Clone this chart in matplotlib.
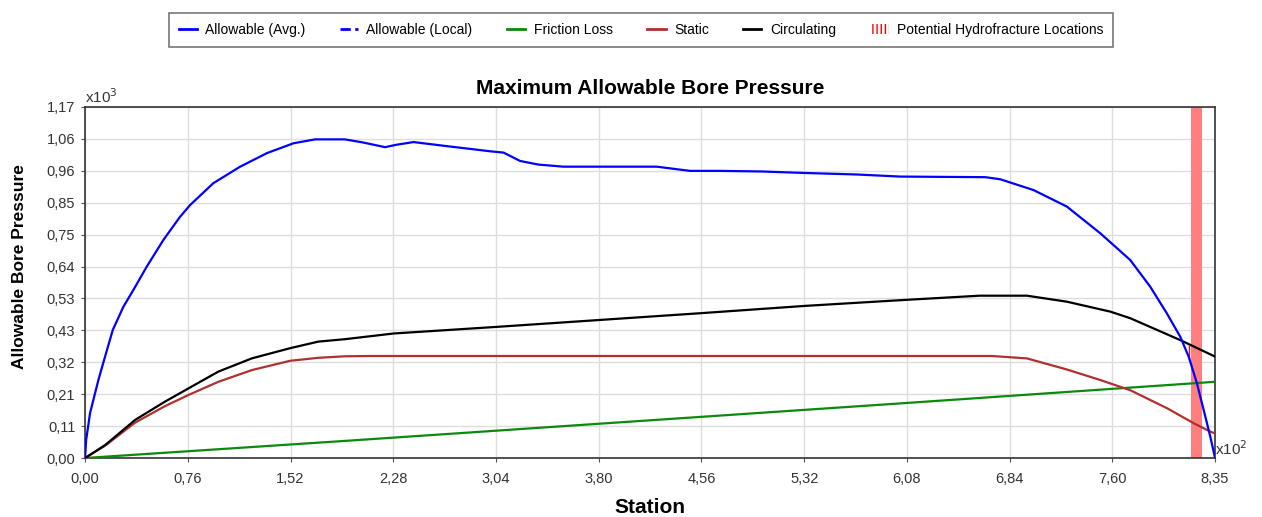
import matplotlib
matplotlib.use("Agg")
import matplotlib.pyplot as plt
from matplotlib.lines import Line2D
from matplotlib.patches import Patch

plt.rcParams['font.family'] = ['Liberation Sans', 'DejaVu Sans']

# station in x10^2, pressure in x10^3
avg_x = [0.0, 0.008, 0.037, 0.0985, 0.135, 0.205, 0.283, 0.357, 0.456, 0.579, 0.702,
         0.776, 0.948, 1.146, 1.343, 1.54, 1.70, 1.92, 2.05, 2.217, 2.30, 2.427,
         2.70, 3.0, 3.092, 3.215, 3.35, 3.535, 4.225, 4.47, 4.69, 5.0, 5.32, 5.70,
         6.024, 6.652, 6.763, 7.009, 7.255, 7.502, 7.723, 7.871, 7.994, 8.093,
         8.155, 8.216, 8.266, 8.315, 8.35]
avg_y = [0.0, 0.06, 0.15, 0.26, 0.318, 0.427, 0.504, 0.56, 0.638, 0.727, 0.804,
         0.843, 0.916, 0.971, 1.016, 1.049, 1.062, 1.062, 1.052, 1.036, 1.044, 1.053,
         1.038, 1.022, 1.018, 0.99, 0.978, 0.971, 0.971, 0.957, 0.957, 0.955, 0.95, 0.945,
         0.938, 0.936, 0.929, 0.893, 0.838, 0.749, 0.66, 0.571, 0.482, 0.404,
         0.338, 0.249, 0.16, 0.071, 0.0]

circ_x = [0.0, 0.148, 0.37, 0.591, 0.764, 0.985, 1.232, 1.515, 1.724, 1.92, 2.28,
          3.04, 3.80, 4.56, 5.32, 6.024, 6.61, 6.96, 7.255, 7.575, 7.723, 8.093, 8.35]
circ_y = [0.0, 0.043, 0.127, 0.188, 0.232, 0.288, 0.332, 0.366, 0.388, 0.396, 0.415,
          0.437, 0.46, 0.483, 0.507, 0.526, 0.541, 0.541, 0.521, 0.488, 0.466, 0.393, 0.338]

static_x = [0.0, 0.148, 0.37, 0.591, 0.764, 0.985, 1.232, 1.515, 1.724, 1.92, 2.1,
            6.70, 6.96, 7.255, 7.502, 7.723, 7.995, 8.192, 8.315, 8.35]
static_y = [0.0, 0.041, 0.118, 0.173, 0.21, 0.254, 0.293, 0.324, 0.334, 0.339, 0.34,
            0.34, 0.332, 0.295, 0.26, 0.226, 0.166, 0.116, 0.088, 0.082]

friction_x = [0.0, 1.92, 6.024, 8.35]
friction_y = [0.0, 0.057, 0.182, 0.254]

hydrofrac_start = 8.17
hydrofrac_end = 8.255
hydrofrac_mark_y = [0.33, 0.378]

x_max = 8.35
y_max = 1.17
x_labels = ["0,00", "0,76", "1,52", "2,28", "3,04", "3,80", "4,56", "5,32",
            "6,08", "6,84", "7,60", "8,35"]
y_labels = ["0,00", "0,11", "0,21", "0,32", "0,43", "0,53", "0,64", "0,75",
            "0,85", "0,96", "1,06", "1,17"]

fig = plt.figure(figsize=(12.62, 5.17), dpi=100)
ax = fig.add_axes([0.0674, 0.1141, 0.8954, 0.679])

ax.axvspan(hydrofrac_start, hydrofrac_end, color='#ff7f7f', lw=0, zorder=1)
ax.plot(friction_x, friction_y, color='#0a8a0a', lw=1.6, zorder=3)
ax.plot(static_x, static_y, color='#b03030', lw=1.6, zorder=3)
ax.plot(circ_x, circ_y, color='black', lw=1.6, zorder=3)
ax.vlines(hydrofrac_start - 0.01, hydrofrac_mark_y[0], hydrofrac_mark_y[1],
          color='red', lw=1, zorder=3)
ax.plot(avg_x, avg_y, color='#0000ff', lw=1.6, zorder=4)

xt = [x_max * i / (len(x_labels) - 1) for i in range(len(x_labels))]
yt = [y_max * i / (len(y_labels) - 1) for i in range(len(y_labels))]
ax.set_xticks(xt)
ax.set_yticks(yt)
ax.set_xticklabels(x_labels, fontsize=10.5, color='#333333')
ax.set_yticklabels(y_labels, fontsize=10.5, color='#333333')
ax.set_xlim(0, x_max)
ax.set_ylim(0, y_max)
ax.grid(True, color='#dddddd', lw=1)
ax.set_axisbelow(True)
ax.tick_params(axis='x', length=3, color='#555555', pad=7)
ax.tick_params(axis='y', length=3, color='#555555', pad=4)
for s in ax.spines.values():
    s.set_color('#333333')
    s.set_linewidth(1.2)

ax.set_title("Maximum Allowable Bore Pressure", fontsize=15, fontweight='bold', pad=9)
ax.set_xlabel("Station", fontsize=15, fontweight='bold', labelpad=9)
ax.set_ylabel("Allowable Bore Pressure", fontsize=12.5, fontweight='bold')
ax.yaxis.set_label_coords(-0.051, 0.544)

ax.text(0.0, 1.003, r"x10$^{3}$", transform=ax.transAxes, fontsize=11, color='#333333',
        ha='left', va='bottom')
ax.text(1.0, 0.0, r"x10$^{2}$", transform=ax.transAxes, fontsize=11, color='#333333',
        ha='left', va='bottom')

handles = [
    Line2D([], [], color='#0000ff', lw=2),
    Line2D([], [], color='#0000ff', lw=2, ls='--'),
    Line2D([], [], color='#0a8a0a', lw=2),
    Line2D([], [], color='#b03030', lw=2),
    Line2D([], [], color='black', lw=2),
    Patch(facecolor='white', edgecolor='red', hatch='||||', lw=0),
]
labels = ["Allowable (Avg.)", "Allowable (Local)", "Friction Loss", "Static",
          "Circulating", "Potential Hydrofracture Locations"]
leg = fig.legend(handles, labels, loc='upper center', bbox_to_anchor=(0.508, 0.988),
                 ncol=6, fontsize=10, frameon=True, fancybox=False,
                 handlelength=1.3, handletextpad=0.6, columnspacing=2.5,
                 borderpad=0.7)
leg.get_frame().set_edgecolor('#555555')
leg.get_frame().set_linewidth(1.2)

fig.savefig("out.png", dpi=100)
